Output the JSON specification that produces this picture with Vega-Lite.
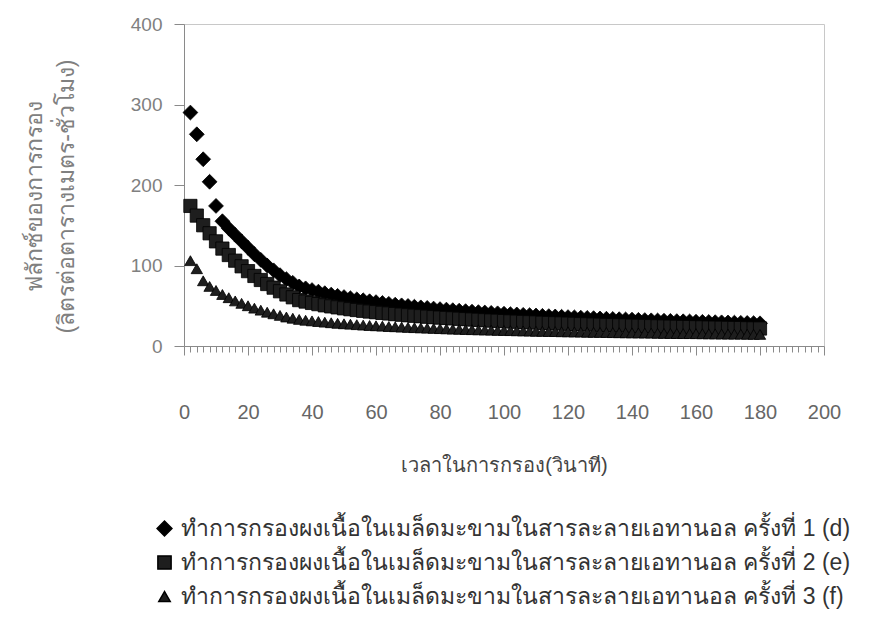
{
"$schema":"https://vega.github.io/schema/vega-lite/v6.json",
"width":640,"height":322,
"autosize":"none",
"padding":{"left":184,"top":24,"right":57,"bottom":288},
"background":"white",
"config":{"font":"Liberation Sans","view":{"stroke":"#c8c8c8","strokeWidth":1}},
"data":{"values":[
{"t":2,"s":"d","v":290},{"t":4,"s":"d","v":263},{"t":6,"s":"d","v":232},{"t":8,"s":"d","v":204},{"t":10,"s":"d","v":174},{"t":12,"s":"d","v":155},{"t":14,"s":"d","v":146},{"t":16,"s":"d","v":138},{"t":18,"s":"d","v":130},{"t":20,"s":"d","v":122},{"t":22,"s":"d","v":114},{"t":24,"s":"d","v":107},{"t":26,"s":"d","v":100},{"t":28,"s":"d","v":94},{"t":30,"s":"d","v":88},{"t":32,"s":"d","v":83},{"t":34,"s":"d","v":78.5},{"t":36,"s":"d","v":74},{"t":38,"s":"d","v":71.6},{"t":40,"s":"d","v":69.5},{"t":42,"s":"d","v":67.5},{"t":44,"s":"d","v":65.6},{"t":46,"s":"d","v":63.9},{"t":48,"s":"d","v":62.3},{"t":50,"s":"d","v":60.8},{"t":52,"s":"d","v":59.3},{"t":54,"s":"d","v":58.0},{"t":56,"s":"d","v":56.8},{"t":58,"s":"d","v":55.6},{"t":60,"s":"d","v":54.5},{"t":62,"s":"d","v":53.4},{"t":64,"s":"d","v":52.4},{"t":66,"s":"d","v":51.4},{"t":68,"s":"d","v":50.5},{"t":70,"s":"d","v":49.7},{"t":72,"s":"d","v":48.8},{"t":74,"s":"d","v":48.0},{"t":76,"s":"d","v":47.3},{"t":78,"s":"d","v":46.5},{"t":80,"s":"d","v":45.8},{"t":82,"s":"d","v":45.2},{"t":84,"s":"d","v":44.5},{"t":86,"s":"d","v":43.9},{"t":88,"s":"d","v":43.3},{"t":90,"s":"d","v":42.7},{"t":92,"s":"d","v":42.1},{"t":94,"s":"d","v":41.6},{"t":96,"s":"d","v":41.1},{"t":98,"s":"d","v":40.6},{"t":100,"s":"d","v":40.1},{"t":102,"s":"d","v":39.6},{"t":104,"s":"d","v":39.2},{"t":106,"s":"d","v":38.7},{"t":108,"s":"d","v":38.3},{"t":110,"s":"d","v":37.9},{"t":112,"s":"d","v":37.5},{"t":114,"s":"d","v":37.1},{"t":116,"s":"d","v":36.7},{"t":118,"s":"d","v":36.3},{"t":120,"s":"d","v":35.9},{"t":122,"s":"d","v":35.6},{"t":124,"s":"d","v":35.2},{"t":126,"s":"d","v":34.9},{"t":128,"s":"d","v":34.6},{"t":130,"s":"d","v":34.2},{"t":132,"s":"d","v":33.9},{"t":134,"s":"d","v":33.6},{"t":136,"s":"d","v":33.3},{"t":138,"s":"d","v":33.0},{"t":140,"s":"d","v":32.8},{"t":142,"s":"d","v":32.5},{"t":144,"s":"d","v":32.2},{"t":146,"s":"d","v":31.9},{"t":148,"s":"d","v":31.7},{"t":150,"s":"d","v":31.4},{"t":152,"s":"d","v":31.2},{"t":154,"s":"d","v":30.9},{"t":156,"s":"d","v":30.7},{"t":158,"s":"d","v":30.5},{"t":160,"s":"d","v":30.2},{"t":162,"s":"d","v":30.0},{"t":164,"s":"d","v":29.8},{"t":166,"s":"d","v":29.6},{"t":168,"s":"d","v":29.4},{"t":170,"s":"d","v":29.2},{"t":172,"s":"d","v":29.0},{"t":174,"s":"d","v":28.8},{"t":176,"s":"d","v":28.6},{"t":178,"s":"d","v":28.4},{"t":180,"s":"d","v":28.2},
{"t":2,"s":"e","v":174},{"t":4,"s":"e","v":162},{"t":6,"s":"e","v":150},{"t":8,"s":"e","v":140},{"t":10,"s":"e","v":130},{"t":12,"s":"e","v":121},{"t":14,"s":"e","v":113},{"t":16,"s":"e","v":106},{"t":18,"s":"e","v":99},{"t":20,"s":"e","v":93},{"t":22,"s":"e","v":87},{"t":24,"s":"e","v":82},{"t":26,"s":"e","v":77},{"t":28,"s":"e","v":72.5},{"t":30,"s":"e","v":68},{"t":32,"s":"e","v":64},{"t":34,"s":"e","v":60.5},{"t":36,"s":"e","v":57.0},{"t":38,"s":"e","v":55.2},{"t":40,"s":"e","v":53.5},{"t":42,"s":"e","v":52.0},{"t":44,"s":"e","v":50.5},{"t":46,"s":"e","v":49.2},{"t":48,"s":"e","v":48.0},{"t":50,"s":"e","v":46.8},{"t":52,"s":"e","v":45.7},{"t":54,"s":"e","v":44.7},{"t":56,"s":"e","v":43.7},{"t":58,"s":"e","v":42.8},{"t":60,"s":"e","v":42.0},{"t":62,"s":"e","v":41.1},{"t":64,"s":"e","v":40.4},{"t":66,"s":"e","v":39.6},{"t":68,"s":"e","v":38.9},{"t":70,"s":"e","v":38.2},{"t":72,"s":"e","v":37.6},{"t":74,"s":"e","v":37.0},{"t":76,"s":"e","v":36.4},{"t":78,"s":"e","v":35.8},{"t":80,"s":"e","v":35.3},{"t":82,"s":"e","v":34.8},{"t":84,"s":"e","v":34.3},{"t":86,"s":"e","v":33.8},{"t":88,"s":"e","v":33.3},{"t":90,"s":"e","v":32.9},{"t":92,"s":"e","v":32.5},{"t":94,"s":"e","v":32.0},{"t":96,"s":"e","v":31.6},{"t":98,"s":"e","v":31.3},{"t":100,"s":"e","v":30.9},{"t":102,"s":"e","v":30.5},{"t":104,"s":"e","v":30.2},{"t":106,"s":"e","v":29.8},{"t":108,"s":"e","v":29.5},{"t":110,"s":"e","v":29.2},{"t":112,"s":"e","v":28.8},{"t":114,"s":"e","v":28.5},{"t":116,"s":"e","v":28.2},{"t":118,"s":"e","v":28.0},{"t":120,"s":"e","v":27.7},{"t":122,"s":"e","v":27.4},{"t":124,"s":"e","v":27.1},{"t":126,"s":"e","v":26.9},{"t":128,"s":"e","v":26.6},{"t":130,"s":"e","v":26.4},{"t":132,"s":"e","v":26.1},{"t":134,"s":"e","v":25.9},{"t":136,"s":"e","v":25.7},{"t":138,"s":"e","v":25.5},{"t":140,"s":"e","v":25.2},{"t":142,"s":"e","v":25.0},{"t":144,"s":"e","v":24.8},{"t":146,"s":"e","v":24.6},{"t":148,"s":"e","v":24.4},{"t":150,"s":"e","v":24.2},{"t":152,"s":"e","v":24.0},{"t":154,"s":"e","v":23.8},{"t":156,"s":"e","v":23.6},{"t":158,"s":"e","v":23.5},{"t":160,"s":"e","v":23.3},{"t":162,"s":"e","v":23.1},{"t":164,"s":"e","v":22.9},{"t":166,"s":"e","v":22.8},{"t":168,"s":"e","v":22.6},{"t":170,"s":"e","v":22.5},{"t":172,"s":"e","v":22.3},{"t":174,"s":"e","v":22.2},{"t":176,"s":"e","v":22.0},{"t":178,"s":"e","v":21.8},{"t":180,"s":"e","v":21.7},
{"t":2,"s":"f","v":106},{"t":4,"s":"f","v":96},{"t":6,"s":"f","v":81},{"t":8,"s":"f","v":74},{"t":10,"s":"f","v":69},{"t":12,"s":"f","v":64},{"t":14,"s":"f","v":60},{"t":16,"s":"f","v":56},{"t":18,"s":"f","v":53},{"t":20,"s":"f","v":50},{"t":22,"s":"f","v":47},{"t":24,"s":"f","v":44.5},{"t":26,"s":"f","v":42},{"t":28,"s":"f","v":40},{"t":30,"s":"f","v":38},{"t":32,"s":"f","v":36},{"t":34,"s":"f","v":34.5},{"t":36,"s":"f","v":33.0},{"t":38,"s":"f","v":32.0},{"t":40,"s":"f","v":31.2},{"t":42,"s":"f","v":30.4},{"t":44,"s":"f","v":29.6},{"t":46,"s":"f","v":28.9},{"t":48,"s":"f","v":28.2},{"t":50,"s":"f","v":27.6},{"t":52,"s":"f","v":27.1},{"t":54,"s":"f","v":26.5},{"t":56,"s":"f","v":26.0},{"t":58,"s":"f","v":25.5},{"t":60,"s":"f","v":25.1},{"t":62,"s":"f","v":24.7},{"t":64,"s":"f","v":24.2},{"t":66,"s":"f","v":23.9},{"t":68,"s":"f","v":23.5},{"t":70,"s":"f","v":23.1},{"t":72,"s":"f","v":22.8},{"t":74,"s":"f","v":22.5},{"t":76,"s":"f","v":22.2},{"t":78,"s":"f","v":21.9},{"t":80,"s":"f","v":21.6},{"t":82,"s":"f","v":21.3},{"t":84,"s":"f","v":21.0},{"t":86,"s":"f","v":20.8},{"t":88,"s":"f","v":20.5},{"t":90,"s":"f","v":20.3},{"t":92,"s":"f","v":20.1},{"t":94,"s":"f","v":19.9},{"t":96,"s":"f","v":19.7},{"t":98,"s":"f","v":19.4},{"t":100,"s":"f","v":19.3},{"t":102,"s":"f","v":19.1},{"t":104,"s":"f","v":18.9},{"t":106,"s":"f","v":18.7},{"t":108,"s":"f","v":18.5},{"t":110,"s":"f","v":18.3},{"t":112,"s":"f","v":18.2},{"t":114,"s":"f","v":18.0},{"t":116,"s":"f","v":17.9},{"t":118,"s":"f","v":17.7},{"t":120,"s":"f","v":17.6},{"t":122,"s":"f","v":17.4},{"t":124,"s":"f","v":17.3},{"t":126,"s":"f","v":17.1},{"t":128,"s":"f","v":17.0},{"t":130,"s":"f","v":16.9},{"t":132,"s":"f","v":16.8},{"t":134,"s":"f","v":16.6},{"t":136,"s":"f","v":16.5},{"t":138,"s":"f","v":16.4},{"t":140,"s":"f","v":16.3},{"t":142,"s":"f","v":16.2},{"t":144,"s":"f","v":16.1},{"t":146,"s":"f","v":16.0},{"t":148,"s":"f","v":15.8},{"t":150,"s":"f","v":15.7},{"t":152,"s":"f","v":15.6},{"t":154,"s":"f","v":15.5},{"t":156,"s":"f","v":15.4},{"t":158,"s":"f","v":15.4},{"t":160,"s":"f","v":15.3},{"t":162,"s":"f","v":15.2},{"t":164,"s":"f","v":15.1},{"t":166,"s":"f","v":15.0},{"t":168,"s":"f","v":14.9},{"t":170,"s":"f","v":14.8},{"t":172,"s":"f","v":14.7},{"t":174,"s":"f","v":14.7},{"t":176,"s":"f","v":14.6},{"t":178,"s":"f","v":14.5},{"t":180,"s":"f","v":14.4}
]},
"mark":{"type":"point","filled":true,"opacity":1,"stroke":"#000","strokeWidth":0.8},
"encoding":{
"x":{"field":"t","type":"quantitative","scale":{"domain":[0,200],"nice":false,"zero":false},
 "axis":{"values":[0,2,4,6,8,10,12,14,16,18,20,22,24,26,28,30,32,34,36,38,40,42,44,46,48,50,52,54,56,58,60,62,64,66,68,70,72,74,76,78,80,82,84,86,88,90,92,94,96,98,100,102,104,106,108,110,112,114,116,118,120,122,124,126,128,130,132,134,136,138,140,142,144,146,148,150,152,154,156,158,160,162,164,166,168,170,172,174,176,178,180,182,184,186,188,190,192,194,196,198,200],
 "labelExpr":"datum.value % 20 === 0 ? datum.label : ''","labelOverlap":false,"labelFlush":false,"grid":false,
 "tickSize":{"condition":{"test":"datum.value % 20 === 0","value":9},"value":6},"tickColor":"#8a8a8a","tickWidth":1,
 "domainColor":"#8a8a8a","labelFontSize":20,"labelColor":"#666666","labelPadding":47,
 "title":"เวลาในการกรอง(วินาที)","titleFontSize":20,"titleFontWeight":"normal","titleColor":"#444444","titlePadding":33}},
"y":{"field":"v","type":"quantitative","scale":{"domain":[0,400],"nice":false},
 "axis":{"values":[0,100,200,300,400],"grid":false,"tickSize":10,"tickColor":"#8a8a8a","domainColor":"#8a8a8a",
 "labelFontSize":19,"labelColor":"#808080","labelPadding":12,
 "title":["ฟลักซ์ของการกรอง","(ลิตรต่อตารางเมตร-ชั่วโมง)"],"titleFontSize":23,"titleFontWeight":"normal","titleColor":"#808080","titlePadding":52,"titleLineHeight":32,"titleY":172}},
"shape":{"field":"s","type":"nominal","scale":{"domain":["d","e","f"],"range":["diamond","square","triangle-up"]},
 "legend":{"orient":"none","legendX":-31,"legendY":493,"title":null,"labelFontSize":23,"labelColor":"#333333","symbolSize":80,"rowPadding":10,"labelOffset":5,"labelLimit":0,
 "labelExpr":"datum.value == 'd' ? 'ทำการกรองผงเนื้อในเมล็ดมะขามในสารละลายเอทานอล ครั้งที่ 1 (d)' : datum.value == 'e' ? 'ทำการกรองผงเนื้อในเมล็ดมะขามในสารละลายเอทานอล ครั้งที่ 2 (e)' : 'ทำการกรองผงเนื้อในเมล็ดมะขามในสารละลายเอทานอล ครั้งที่ 3 (f)'"}},
"color":{"field":"s","type":"nominal","scale":{"domain":["d","e","f"],"range":["#000000","#1e1e1e","#1e1e1e"]},
 "legend":{"orient":"none","legendX":-31,"legendY":493,"title":null,"labelFontSize":23,"labelColor":"#333333","symbolSize":80,"rowPadding":10,"labelOffset":5,"labelLimit":0,
 "labelExpr":"datum.value == 'd' ? 'ทำการกรองผงเนื้อในเมล็ดมะขามในสารละลายเอทานอล ครั้งที่ 1 (d)' : datum.value == 'e' ? 'ทำการกรองผงเนื้อในเมล็ดมะขามในสารละลายเอทานอล ครั้งที่ 2 (e)' : 'ทำการกรองผงเนื้อในเมล็ดมะขามในสารละลายเอทานอล ครั้งที่ 3 (f)'"}},
"size":{"field":"s","type":"nominal","scale":{"domain":["d","e","f"],"range":[220,130,175]},"legend":null}
}
}
